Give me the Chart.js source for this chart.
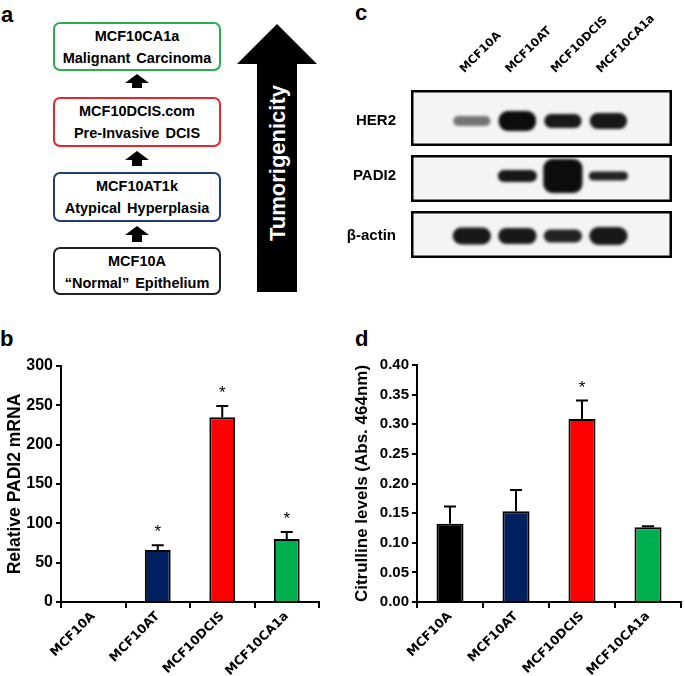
<!DOCTYPE html>
<html lang="en">
<head>
<meta charset="UTF-8">
<title>PADI2 in the MCF10 progression series</title>
<script src="https://cdn.jsdelivr.net/npm/chart.js"></script>
<style>
    body {
        margin: 0;
        width: 685px;
        height: 676px;
        position: relative;
        overflow: hidden;
        background: #fff;
        font-family: "Liberation Sans", Arial, sans-serif;
        color: #000;
    }
    .panel-label {
        position: absolute;
        font-weight: bold;
        font-size: 22px;
        line-height: 1;
    }
    .stage {
        position: absolute;
        left: 53px;
        width: 168px;
        box-sizing: border-box;
        border: 2px solid #000;
        border-radius: 7px;
        text-align: center;
        font-weight: bold;
        font-size: 14.5px;
        line-height: 22px;
        padding-top: 1px;
        word-spacing: 2px;
        background: #fff;
    }
    canvas { position: absolute; }
</style>
</head>
<body>
    <!-- panel a : progression scheme -->
    <div class="panel-label" style="left:1px; top:4px;">a</div>
    <div class="stage" style="top:22px; height:49px; border-color:#2eab4f;">MCF10CA1a<br>Malignant Carcinoma</div>
    <div class="stage" style="top:97px; height:50px; border-color:#e8262b;">MCF10DCIS.com<br>Pre-Invasive DCIS</div>
    <div class="stage" style="top:172px; height:50px; border-color:#1f3b7a;">MCF10AT1k<br>Atypical Hyperplasia</div>
    <div class="stage" style="top:247px; height:48px; border-color:#222;">MCF10A<br>&ldquo;Normal&rdquo; Epithelium</div>
    <svg style="position:absolute; left:0; top:0;" width="330" height="300">
        <polygon points="137,74 149,83 142,83 142,88 132,88 132,83 125,83" fill="#000"/>
        <polygon points="137,151 149,160 142,160 142,166 132,166 132,160 125,160" fill="#000"/>
        <polygon points="137,226 149,235 142,235 142,242 132,242 132,235 125,235" fill="#000"/>
        <polygon points="277,24 317,64 297,64 297,292 257,292 257,64 237,64" fill="#000"/>
        <text transform="translate(277,163) rotate(-90)" text-anchor="middle" dominant-baseline="central"
              fill="#fff" font-weight="bold" font-size="22" font-family="Liberation Sans, Arial, sans-serif">Tumorigenicity</text>
    </svg>

    <div class="panel-label" style="left:355px; top:2px;">c</div>
    <canvas id="blotChart" width="345" height="290" style="left:340px; top:0;"></canvas>

    <div class="panel-label" style="left:0; top:328px;">b</div>
    <canvas id="mrnaChart" width="330" height="346" style="left:0; top:330px;"></canvas>

    <div class="panel-label" style="left:355px; top:328px;">d</div>
    <canvas id="citChart" width="345" height="346" style="left:340px; top:330px;"></canvas>

<script>
    // ---- data ----
    const cellLines = ['MCF10A', 'MCF10AT', 'MCF10DCIS', 'MCF10CA1a'];
    const barColors = ['#000000', '#002060', '#ff0000', '#00b050'];

    // panel b
    const padi2Mrna = [1, 66, 235, 80];
    const padi2MrnaErr = [0, 6, 14, 9];
    const padi2MrnaStar = [false, true, true, true];

    // panel d
    const citrulline = [0.132, 0.153, 0.309, 0.126];
    const citrullineErr = [0.029, 0.036, 0.031, 0.002];
    const citrullineStar = [false, false, true, false];

    // panel c: band thickness and darkness per lane
    const blotProteins = ['HER2', 'PADI2', 'β-actin'];
    const her2Band = [10, 20, 14, 16];
    const padi2Band = [0, 12, 34, 9];
    const actinBand = [17, 16, 13, 18];
    const her2Dark = [0.55, 1, 0.95, 0.95];
    const padi2Dark = [0, 0.95, 1, 0.9];
    const actinDark = [0.95, 0.95, 0.9, 0.95];

    const FONT = '"Liberation Sans", Arial, sans-serif';
    const WIDE = '"DejaVu Sans", sans-serif';   // rotated cell-line labels look wide and heavy

    // ---- error bars + significance stars ----
    const errorBars = {
        id: 'errorBars',
        afterDatasetsDraw(chart, args, opts) {
            const ctx = chart.ctx;
            const y = chart.scales.y;
            const values = chart.data.datasets[0].data;
            ctx.save();
            ctx.strokeStyle = '#000';
            ctx.fillStyle = '#000';
            ctx.lineWidth = 2;
            ctx.font = '17px ' + FONT;
            ctx.textAlign = 'center';
            chart.getDatasetMeta(0).data.forEach((bar, i) => {
                const v = values[i];
                const top = y.getPixelForValue(v + opts.err[i]);
                if (opts.err[i] > 0) {
                    ctx.beginPath();
                    ctx.moveTo(bar.x, y.getPixelForValue(v));
                    ctx.lineTo(bar.x, top);
                    ctx.moveTo(bar.x - 6, top);
                    ctx.lineTo(bar.x + 6, top);
                    ctx.stroke();
                }
                if (opts.stars[i]) {
                    ctx.fillText('*', bar.x, top - 8);
                }
            });
            ctx.restore();
        }
    };

    function barChart(id, values, err, stars, yTitle, yMax, step, decimals, cfg) {
        return new Chart(document.getElementById(id), {
            type: 'bar',
            data: {
                labels: cellLines,
                datasets: [{
                    data: values,
                    backgroundColor: barColors,
                    borderColor: '#000',
                    borderWidth: 2,
                    categoryPercentage: 1,
                    barPercentage: cfg.barPct
                }]
            },
            options: {
                responsive: false,
                animation: false,
                layout: { padding: { left: 0, right: cfg.padRight, top: cfg.padTop, bottom: 0 } },
                plugins: {
                    legend: { display: false },
                    tooltip: { enabled: false },
                    errorBars: { err: err, stars: stars }
                },
                scales: {
                    x: {
                        afterFit: s => { s.height = 74; },
                        grid: { drawOnChartArea: false, color: '#000', lineWidth: 2, tickLength: 6 },
                        border: { color: '#000', width: 2 },
                        ticks: {
                            color: '#000',
                            minRotation: 45,
                            maxRotation: 45,
                            padding: 1,
                            font: { family: WIDE, weight: 'bold', size: 12.5 }
                        }
                    },
                    y: {
                        min: 0,
                        max: yMax,
                        afterFit: s => { s.width = cfg.axisWidth; },
                        grid: { drawOnChartArea: false, color: '#000', lineWidth: 2, tickLength: 5 },
                        border: { color: '#000', width: 2 },
                        ticks: {
                            stepSize: step,
                            color: '#000',
                            padding: 3,
                            font: { family: FONT, weight: 'bold', size: cfg.tickSize },
                            callback: v => v.toFixed(decimals)
                        },
                        title: {
                            display: true,
                            text: yTitle,
                            color: '#000',
                            padding: { top: cfg.titlePad, bottom: 0 },
                            font: { family: FONT, weight: 'bold', size: cfg.titleSize }
                        }
                    }
                }
            },
            plugins: [errorBars]
        });
    }

    barChart('mrnaChart', padi2Mrna, padi2MrnaErr, padi2MrnaStar,
        'Relative PADI2 mRNA', 300, 50, 0,
        { barPct: 0.4, padRight: 11, padTop: 36, axisWidth: 61, tickSize: 16, titlePad: 5, titleSize: 17.5 });

    barChart('citChart', citrulline, citrullineErr, citrullineStar,
        'Citrulline levels (Abs. 464nm)', 0.4, 0.05, 2,
        { barPct: 0.41, padRight: 4, padTop: 35, axisWidth: 77, tickSize: 15, titlePad: 12, titleSize: 17 });

    // ---- western blot (panel c) ----
    // y units run top-down, roughly one unit per pixel of the blot strip
    const rowCenter = [31, 86, 146];
    const rowTop = [0, 65, 121];
    const rowBottom = [56, 112, 168];

    const blotFrames = {
        id: 'blotFrames',
        beforeDatasetsDraw(chart) {
            const { ctx, chartArea, scales: { y } } = chart;
            ctx.save();
            ctx.fillStyle = '#f4f4f4';
            rowTop.forEach((t, r) => {
                const y0 = y.getPixelForValue(t), y1 = y.getPixelForValue(rowBottom[r]);
                ctx.fillRect(chartArea.left, y0, chartArea.right - chartArea.left, y1 - y0);
            });
            ctx.filter = 'blur(1.6px)';
        },
        afterDatasetsDraw(chart) {
            const { ctx, chartArea, scales: { y } } = chart;
            ctx.restore();
            ctx.save();
            ctx.strokeStyle = '#000';
            ctx.lineWidth = 2.5;
            rowTop.forEach((t, r) => {
                const y0 = y.getPixelForValue(t), y1 = y.getPixelForValue(rowBottom[r]);
                ctx.strokeRect(chartArea.left + 1.25, y0 + 1.25,
                    chartArea.right - chartArea.left - 2.5, y1 - y0 - 2.5);
            });
            ctx.restore();
        }
    };

    function bandSet(thick, dark, r, pct) {
        return {
            data: thick.map((t, i) => ({ x: i, y: t > 0 ? [rowCenter[r] - t / 2, rowCenter[r] + t / 2] : null })),
            backgroundColor: dark.map(d => `rgba(12,12,12,${d})`),
            borderWidth: 0,
            borderSkipped: false,
            borderRadius: 9,
            categoryPercentage: 1,
            barPercentage: pct
        };
    }

    new Chart(document.getElementById('blotChart'), {
        type: 'bar',
        data: {
            datasets: [
                bandSet(her2Band, her2Dark, 0, 0.82),
                bandSet(padi2Band, padi2Dark, 1, 0.86),
                bandSet(actinBand, actinDark, 2, 0.84)
            ]
        },
        options: {
            responsive: false,
            animation: false,
            grouped: false,
            layout: { padding: { left: 0, right: 13, top: 0, bottom: 32 } },
            plugins: { legend: { display: false }, tooltip: { enabled: false } },
            scales: {
                x: {
                    type: 'linear',
                    position: 'top',
                    min: -0.62,
                    max: 3.68,
                    afterFit: s => { s.height = 90; },
                    afterBuildTicks: s => { s.ticks = cellLines.map((_, i) => ({ value: i })); },
                    grid: { display: false },
                    border: { display: false },
                    ticks: {
                        color: '#000',
                        minRotation: 45,
                        maxRotation: 45,
                        padding: 6,
                        font: { family: WIDE, weight: 'bold', size: 11.5 },
                        callback: v => cellLines[v]
                    }
                },
                y: {
                    type: 'linear',
                    reverse: true,
                    min: 0,
                    max: 168,
                    afterFit: s => { s.width = 71; },
                    afterBuildTicks: s => { s.ticks = rowCenter.map(v => ({ value: v })); },
                    grid: { display: false },
                    border: { display: false },
                    ticks: {
                        color: '#000',
                        padding: 7,
                        font: { family: FONT, weight: 'bold', size: 15 },
                        callback: v => blotProteins[rowCenter.indexOf(v)]
                    }
                }
            }
        },
        plugins: [blotFrames]
    });
</script>
</body>
</html>
